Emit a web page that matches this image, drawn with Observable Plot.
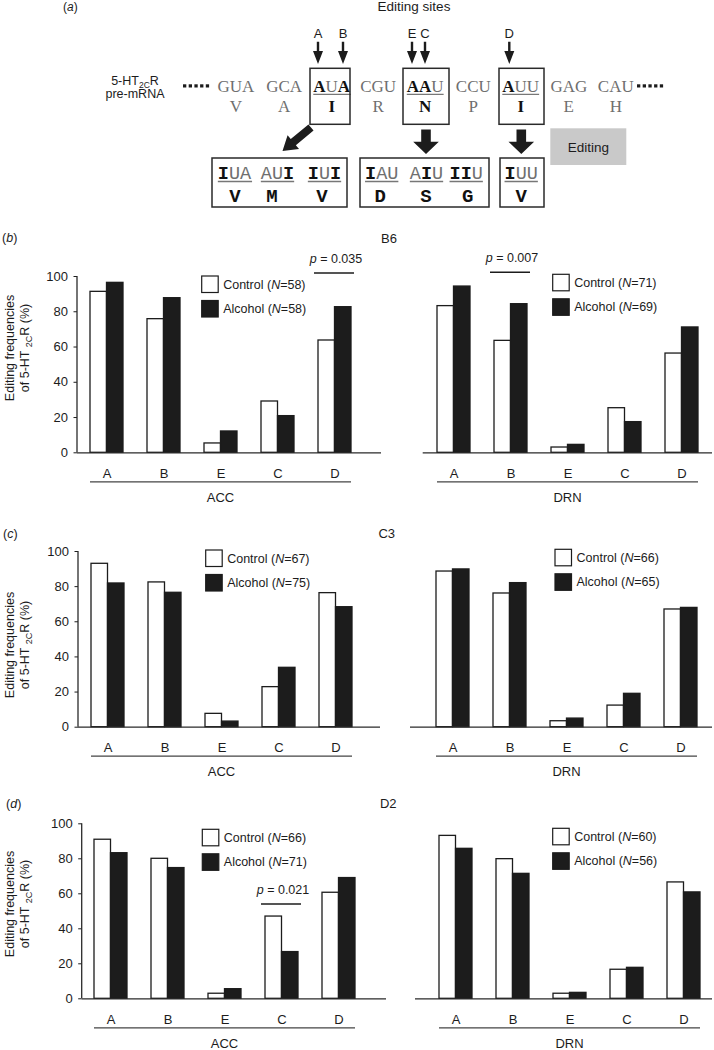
<!DOCTYPE html>
<html><head><meta charset="utf-8">
<script src="https://cdn.jsdelivr.net/npm/d3@7"></script>
<script src="https://cdn.jsdelivr.net/npm/@observablehq/plot@0.6"></script>
<style>
html,body{margin:0;padding:0;background:#fff;}
#fig{position:relative;width:714px;height:1050px;overflow:hidden;background:#fff;}
#fig svg{position:absolute;left:0;top:0;}
</style></head><body><div id="fig"></div>
<script>
// ---------------- DATA ----------------
const sites = ["A", "B", "E", "C", "D"];
const yTicks = [0, 20, 40, 60, 80, 100];
const seriesNames = ["Control", "Alcohol"];

const b6AccControl = [91.3, 75.8, 5.3, 29.1, 63.7];
const b6AccAlcohol = [96.4, 87.7, 12.1, 20.8, 82.6];
const b6DrnControl = [83.2, 63.5, 3.0, 25.3, 56.3];
const b6DrnAlcohol = [94.3, 84.3, 4.5, 17.4, 71.1];

const c3AccControl = [93.0, 82.4, 7.6, 22.8, 76.3];
const c3AccAlcohol = [81.8, 76.5, 3.2, 33.8, 68.3];
const c3DrnControl = [88.6, 76.1, 3.4, 12.3, 67.0];
const c3DrnAlcohol = [89.8, 82.0, 4.9, 19.0, 67.9];

const d2AccControl = [90.9, 80.0, 2.9, 47.0, 60.6];
const d2AccAlcohol = [83.2, 74.7, 5.5, 26.7, 69.0];
const d2DrnControl = [93.1, 79.8, 2.9, 16.6, 66.5];
const d2DrnAlcohol = [85.7, 71.4, 3.4, 17.7, 60.8];

const nB6Acc = [58, 58], nB6Drn = [71, 69];
const nC3Acc = [67, 75], nC3Drn = [66, 65];
const nD2Acc = [66, 71], nD2Drn = [60, 56];

// significance annotations: site, p text, level (in % units)
const sigB6Acc = [{site: "D", p: "0.035", level: 101.7}];
const sigB6Drn = [{site: "B", p: "0.007", level: 102.1}];
const sigD2Acc = [{site: "C", p: "0.021", level: 53.9}];

const strainLabels = ["B6", "C3", "D2"];
const panelLetters = ["b", "c", "d"];

// panel (a) diagram content
const codons = ["GUA", "GCA", "AUA", "CGU", "AAU", "CCU", "AUU", "GAG", "CAU"];
const aminoAcids = ["V", "A", "I", "R", "N", "P", "I", "E", "H"];
const editedMask = [null, null, "101", null, "110", null, "100", null, null];
const siteLetters = ["A", "B", "E", "C", "D"];
const editedGroups = [
  {codons: ["IUA", "AUI", "IUI"], masks: ["100", "001", "101"], aa: ["V", "M", "V"]},
  {codons: ["IAU", "AIU", "IIU"], masks: ["100", "010", "110"], aa: ["D", "S", "G"]},
  {codons: ["IUU"], masks: ["100"], aa: ["V"]}
];

// ---------------- LAYOUT ----------------
const FONT = '"Liberation Sans", Arial, Helvetica, sans-serif';
const INK = "#1c1c1c";
const GROUP = 33;
const W = 714, H = 1050;
const fig = d3.select("#fig");

const panels = [
  {control: b6AccControl, alcohol: b6AccAlcohol, n: nB6Acc, region: "ACC", sig: sigB6Acc, left: true,
   g: {x0: 77, x1: 381, aC: 104.7, dC: 336, y100: 276, y0: 452.3, legX: 201.7, legY: 276}},
  {control: b6DrnControl, alcohol: b6DrnAlcohol, n: nB6Drn, region: "DRN", sig: sigB6Drn, left: false,
   g: {x0: 422.7, x1: 712, aC: 451.2, dC: 682.5, y100: 276, y0: 452.3, legX: 552.7, legY: 274.3}},
  {control: c3AccControl, alcohol: c3AccAlcohol, n: nC3Acc, region: "ACC", sig: [], left: true,
   g: {x0: 78, x1: 380, aC: 107, dC: 336.7, y100: 551, y0: 726.7, legX: 205.7, legY: 550}},
  {control: c3DrnControl, alcohol: c3DrnAlcohol, n: nC3Drn, region: "DRN", sig: [], left: false,
   g: {x0: 410, x1: 712, aC: 451.7, dC: 681, y100: 551, y0: 726.7, legX: 555, legY: 549.3}},
  {control: d2AccControl, alcohol: d2AccAlcohol, n: nD2Acc, region: "ACC", sig: sigD2Acc, left: true,
   g: {x0: 81.7, x1: 386, aC: 110, dC: 339.7, y100: 823.3, y0: 998.3, legX: 202.3, legY: 829.3}},
  {control: d2DrnControl, alcohol: d2DrnAlcohol, n: nD2Drn, region: "DRN", sig: [], left: false,
   g: {x0: 415, x1: 712, aC: 454.3, dC: 683.8, y100: 823.3, y0: 998.3, legX: 552.7, legY: 828.3}}
];
const rowLayout = [
  {labelX: 2, labelY: 238, strainX: 389, ylabelY: 348},
  {labelX: 3, labelY: 533.3, strainX: 386.7, ylabelY: 645},
  {labelX: 6, labelY: 803.3, strainX: 388.3, ylabelY: 904}
];

function drawPanel(p) {
  const g = p.g;
  const data = sites.map((s, i) => ({site: s, control: p.control[i], alcohol: p.alcohol[i]}));
  const step = (g.dC - g.aC) / 4;
  const pi = 1 - GROUP / step;
  const range = [g.aC - step / 2, g.dC + step / 2];
  const plot = Plot.plot({
    width: W, height: H,
    marginLeft: g.x0, marginRight: W - g.x1,
    marginTop: g.y100, marginBottom: H - g.y0,
    style: {background: "transparent", overflow: "visible", fontFamily: FONT, fontSize: "13px", color: INK, maxWidth: "none"},
    x: {type: "band", domain: sites, range, paddingInner: pi, paddingOuter: pi / 2, align: 0.5,
        axis: "bottom", tickSize: 0, tickPadding: 15.5, label: null},
    y: {domain: [0, 100], ticks: yTicks, tickSize: 3.5, tickPadding: 6, axis: p.left ? "left" : null, label: null},
    marks: [
      Plot.barY(data, {x: "site", y: "control", fill: "white", stroke: INK, strokeWidth: 1.3, insetRight: GROUP / 2}),
      Plot.barY(data, {x: "site", y: "alcohol", fill: INK, stroke: INK, strokeWidth: 1.3, insetLeft: GROUP / 2}),
      Plot.ruleY([0], {stroke: "#2a2a2a", strokeWidth: 1.3})
    ]
  });
  fig.node().appendChild(plot);

  // scales from the plot
  const xs = plot.scale("x"), ys = plot.scale("y");
  const fallback = d3.scaleBand(sites, range).paddingInner(pi).paddingOuter(pi / 2).align(0.5);
  const X = xs && xs.apply ? (v => xs.apply(v)) : fallback;
  const bw = xs && xs.bandwidth != null ? xs.bandwidth : fallback.bandwidth();
  const Y = ys && ys.apply ? (v => ys.apply(v)) : d3.scaleLinear([0, 100], [g.y0, g.y100]);

  const svg = d3.select(plot);
  const ann = svg.append("g").attr("font-family", FONT).attr("font-size", 12.5).attr("fill", INK);

  if (p.left) {
    ann.append("line").attr("x1", g.x0).attr("x2", g.x0).attr("y1", Y(100)).attr("y2", Y(0))
      .attr("stroke", "#2a2a2a").attr("stroke-width", 1.3);
  }
  // sub-axis line and region label
  const subX1 = X(sites[0]), subX2 = X(sites[sites.length - 1]) + bw;
  ann.append("line").attr("x1", subX1).attr("x2", subX2).attr("y1", Y(0) + 29.5).attr("y2", Y(0) + 29.5)
    .attr("stroke", "#444").attr("stroke-width", 1.2);
  ann.append("text").attr("x", (subX1 + subX2) / 2).attr("y", Y(0) + 45).attr("dy", "0.35em")
    .attr("text-anchor", "middle").attr("font-size", 13).text(p.region);

  // legend
  seriesNames.forEach((name, i) => {
    const top = g.legY + i * 24.5;
    ann.append("rect").attr("x", g.legX).attr("y", top).attr("width", 16.5).attr("height", 16.5)
      .attr("fill", i === 0 ? "white" : INK).attr("stroke", INK).attr("stroke-width", 1.2);
    const t = ann.append("text").attr("x", g.legX + 21.5).attr("y", top + 8.25).attr("dy", "0.35em")
      .attr("text-anchor", "start");
    t.append("tspan").text(name + " (");
    t.append("tspan").attr("font-style", "italic").text("N");
    t.append("tspan").text("=" + p.n[i] + ")");
  });

  // significance
  p.sig.forEach(s => {
    const xa = X(s.site) - 4, xb = X(s.site) + bw + 3, yl = Y(s.level);
    ann.append("line").attr("x1", xa).attr("x2", xb).attr("y1", yl).attr("y2", yl)
      .attr("stroke", INK).attr("stroke-width", 1.6);
    const t = ann.append("text").attr("x", (xa + xb) / 2 + 2).attr("y", yl - 14.5).attr("dy", "0.35em")
      .attr("text-anchor", "middle");
    t.append("tspan").attr("font-style", "italic").text("p");
    t.append("tspan").text(" = " + s.p);
  });
}
panels.forEach(drawPanel);

// ---------------- OVERLAY: labels and panel (a) ----------------
const ov = fig.append("svg").attr("width", W).attr("height", H)
  .attr("font-family", FONT).attr("fill", INK);

rowLayout.forEach((r, i) => {
  const t = ov.append("text").attr("x", r.labelX).attr("y", r.labelY).attr("dy", "0.35em").attr("font-size", 12.5);
  t.append("tspan").text("(");
  t.append("tspan").attr("font-style", "italic").text(panelLetters[i]);
  t.append("tspan").text(")");
  ov.append("text").attr("x", r.strainX).attr("y", r.labelY).attr("dy", "0.35em").attr("font-size", 13)
    .attr("text-anchor", "middle").text(strainLabels[i]);
  // y axis label (two lines)
  ov.append("text").attr("transform", `translate(10,${r.ylabelY}) rotate(-90)`)
    .attr("text-anchor", "middle").attr("dy", "0.35em").attr("font-size", 12.5).text("Editing frequencies");
  const l2 = ov.append("text").attr("transform", `translate(25,${r.ylabelY}) rotate(-90)`)
    .attr("text-anchor", "middle").attr("dy", "0.35em").attr("font-size", 12.5);
  l2.append("tspan").text("of 5-HT ");
  l2.append("tspan").attr("font-size", 9).attr("baseline-shift", "-3").text("2C");
  l2.append("tspan").text("R (%)");
});

// panel (a)
{
  const t = ov.append("text").attr("x", 63).attr("y", 10.5).attr("font-size", 12);
  t.append("tspan").text("(");
  t.append("tspan").attr("font-style", "italic").text("a");
  t.append("tspan").text(")");
}
ov.append("text").attr("x", 414).attr("y", 10.5).attr("text-anchor", "middle").attr("font-size", 13.5).text("Editing sites");

{
  const t = ov.append("text").attr("x", 135).attr("y", 84.5).attr("text-anchor", "middle").attr("font-size", 12.5);
  t.append("tspan").text("5-HT");
  t.append("tspan").attr("font-size", 8.5).attr("baseline-shift", "-2.5").text("2C");
  t.append("tspan").text("R");
  ov.append("text").attr("x", 135).attr("y", 98).attr("text-anchor", "middle").attr("font-size", 12.5).text("pre-mRNA");
}

function arrowPoly(tx, ty, px, py, sh, hh, hl) {
  const dx = px - tx, dy = py - ty, L = Math.hypot(dx, dy);
  const ux = dx / L, uy = dy / L, nx = -uy, ny = ux;
  const bx = px - ux * hl, by = py - uy * hl;
  const pts = [
    [tx + nx * sh, ty + ny * sh], [bx + nx * sh, by + ny * sh], [bx + nx * hh, by + ny * hh],
    [px, py], [bx - nx * hh, by - ny * hh], [bx - nx * sh, by - ny * sh], [tx - nx * sh, ty - ny * sh]
  ];
  return pts.map(p => p.join(",")).join(" ");
}

const siteArrowX = [318, 343, 412, 425, 509.3];
siteLetters.forEach((s, i) => {
  ov.append("text").attr("x", siteArrowX[i]).attr("y", 37.7).attr("text-anchor", "middle").attr("font-size", 13).text(s);
  ov.append("polygon").attr("points", arrowPoly(siteArrowX[i], 41.7, siteArrowX[i], 64, 1.2, 5, 13)).attr("fill", INK);
});

// dotted leaders
[183, 637].forEach(x0 => {
  for (let k = 0; k < 5; k++) ov.append("rect").attr("x", x0 + k * 5.7).attr("y", 84.3).attr("width", 3.3).attr("height", 3.2).attr("fill", INK);
});

const SERIF = '"Liberation Serif", "Times New Roman", serif';
const MONO = '"Liberation Mono", "Courier New", monospace';
const GRAY = "#6f6f6f";
const codonX = [235.8, 284.2, 331.7, 378.2, 425.2, 473.3, 520.7, 568.8, 615.8];
const boxX = {2: [310, 350], 4: [403, 449], 6: [499, 544]};
codons.forEach((c, i) => {
  const mask = editedMask[i];
  const t = ov.append("text").attr("x", codonX[i]).attr("y", 91.7).attr("text-anchor", "middle")
    .attr("font-family", SERIF).attr("font-size", 17);
  c.split("").forEach((ch, k) => {
    const bold = mask && mask[k] === "1";
    t.append("tspan").attr("font-weight", bold ? "bold" : "normal").attr("fill", bold ? "#111" : GRAY).text(ch);
  });
  ov.append("text").attr("x", codonX[i]).attr("y", 111.7).attr("text-anchor", "middle")
    .attr("font-family", SERIF).attr("font-size", 17)
    .attr("font-weight", mask ? "bold" : "normal").attr("fill", mask ? "#111" : GRAY).text(aminoAcids[i]);
  if (mask) {
    const bb = t.node().getBBox();
    ov.append("line").attr("x1", bb.x).attr("x2", bb.x + bb.width).attr("y1", 94.3).attr("y2", 94.3)
      .attr("stroke", "#777").attr("stroke-width", 1.3);
    const [bx0, bx1] = boxX[i];
    ov.append("rect").attr("x", bx0).attr("y", 68.3).attr("width", bx1 - bx0).attr("height", 56)
      .attr("fill", "none").attr("stroke", "#2a2a2a").attr("stroke-width", 1.5);
  }
});

// fat arrows
ov.append("polygon").attr("points", arrowPoly(311, 127.5, 282.5, 151, 4, 9, 14)).attr("fill", INK);
[426, 521.3].forEach(x => ov.append("polygon").attr("points", arrowPoly(x, 129.5, x, 154, 4.8, 12.8, 12.3)).attr("fill", INK));

// Editing grey box
ov.append("rect").attr("x", 550.3).attr("y", 128.3).attr("width", 76).attr("height", 36.7).attr("fill", "#c9c9c9");
ov.append("text").attr("x", 588.3).attr("y", 147.3).attr("dy", "0.35em").attr("text-anchor", "middle").attr("font-size", 13.5).text("Editing");

// edited codon boxes
const groupBoxes = [[212, 347], [360, 489], [500, 544]];
const groupCodonX = [[234.5, 277.5, 324.5], [381.7, 426.5, 466.2], [521.2]];
const groupAaX = [[235, 272, 322], [380.3, 426, 467.7], [521.3]];
editedGroups.forEach((grp, gi) => {
  const [b0, b1] = groupBoxes[gi];
  ov.append("rect").attr("x", b0).attr("y", 158).attr("width", b1 - b0).attr("height", 49)
    .attr("fill", "none").attr("stroke", "#2a2a2a").attr("stroke-width", 1.5);
  grp.codons.forEach((c, k) => {
    const t = ov.append("text").attr("x", groupCodonX[gi][k]).attr("y", 178.5).attr("text-anchor", "middle")
      .attr("font-family", MONO).attr("font-size", 18.5);
    c.split("").forEach((ch, j) => {
      const bold = grp.masks[k][j] === "1";
      t.append("tspan").attr("font-weight", bold ? "bold" : "normal").attr("fill", bold ? "#111" : GRAY).text(ch);
    });
    const bb = t.node().getBBox();
    ov.append("line").attr("x1", bb.x).attr("x2", bb.x + bb.width).attr("y1", 181.5).attr("y2", 181.5)
      .attr("stroke", "#777").attr("stroke-width", 1.3);
    ov.append("text").attr("x", groupAaX[gi][k]).attr("y", 201.7).attr("text-anchor", "middle")
      .attr("font-family", MONO).attr("font-size", 19).attr("font-weight", "bold").attr("fill", "#111").text(grp.aa[k]);
  });
});
</script>
</body></html>
